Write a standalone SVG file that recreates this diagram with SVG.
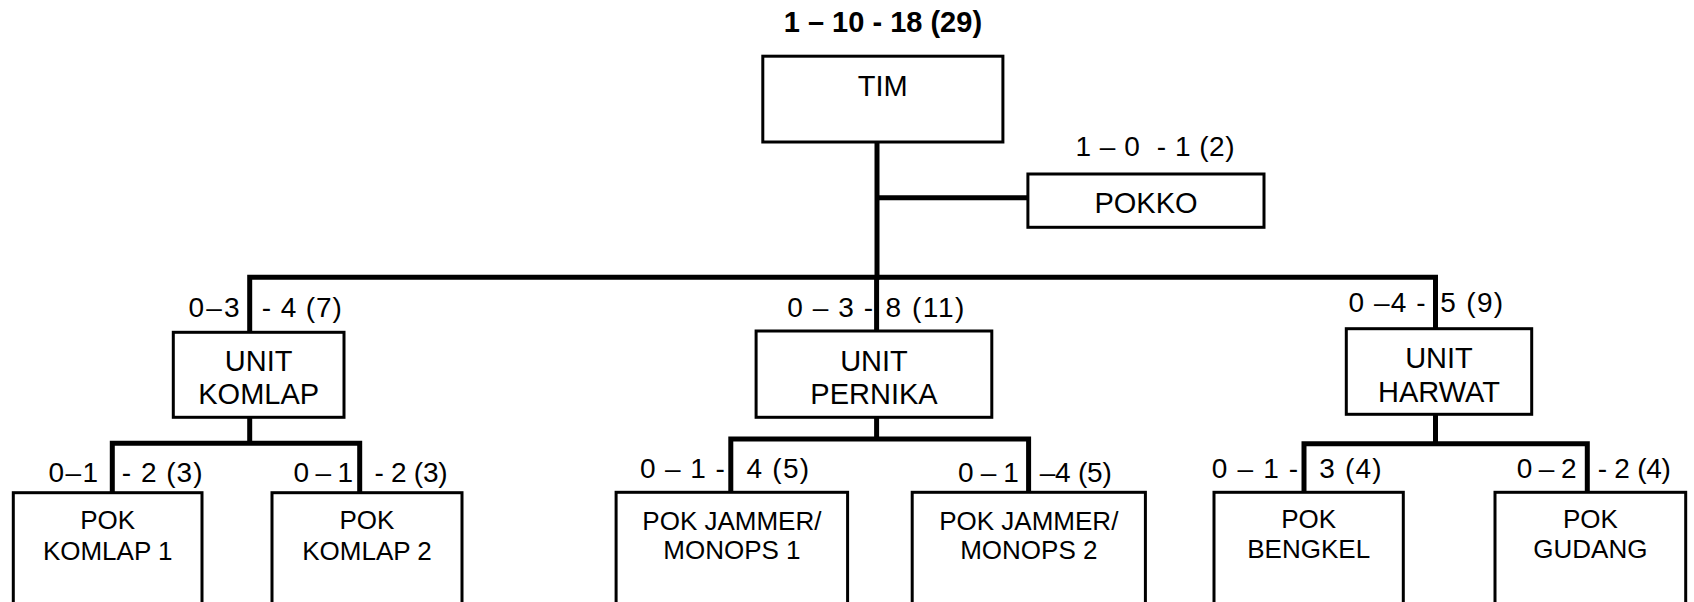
<svg xmlns="http://www.w3.org/2000/svg" width="1694" height="602" viewBox="0 0 1694 602">
<style>
.box{fill:#fff;stroke:#000;stroke-width:3}
.con{fill:none;stroke:#000;stroke-width:5;stroke-linejoin:miter;stroke-linecap:butt}
text{font-family:"Liberation Sans",Arial,sans-serif;fill:#000;white-space:pre}
.t{font-size:29px;text-anchor:middle}
.p{font-size:26px;text-anchor:middle}
.l{font-size:28px}
.title{font-size:29px;font-weight:bold;text-anchor:middle}
</style>
<rect width="1694" height="602" fill="#fff"/>
<g id="connectors">
<path class="con" d="M877,142 V279.8"/>
<path class="con" d="M877,197.7 H1028"/>
<path class="con" d="M249.7,333 V277.3 H1435.5 V330"/>
<path class="con" d="M876.6,277 V331"/>
<path class="con" d="M249.7,417 V443.3"/>
<path class="con" d="M112.3,493 V443.3 H359.7 V493"/>
<path class="con" d="M876.6,417 V439"/>
<path class="con" d="M730.8,493 V439 H1028.6 V493"/>
<path class="con" d="M1435.5,414 V443.7"/>
<path class="con" d="M1304,493 V443.7 H1587.3 V493"/>
</g>
<text class="title" x="882.9" y="32.3">1 – 10 - 18 (29)</text>
<g id="tim">
<rect class="box" x="762.8" y="56.2" width="240.1" height="85.8"/>
<text class="t" x="882.8" y="96">TIM</text>
</g>
<g id="pokko">
<rect class="box" x="1027.9" y="174" width="236.1" height="53.3"/>
<text class="t" x="1146" y="213.3">POKKO</text>
<text class="l" x="1075.5" y="156" textLength="159" lengthAdjust="spacing">1 – 0  - 1 (2)</text>
</g>
<g id="unit-komlap">
<rect class="box" x="173.3" y="332.3" width="170.7" height="85"/>
<text class="t" x="258.7" y="371">UNIT</text>
<text class="t" x="258.7" y="404.3">KOMLAP</text>
<text class="l" x="188.5" y="317.3" textLength="51" lengthAdjust="spacing">0–3</text>
<text class="l" x="261.8" y="317.3" textLength="80" lengthAdjust="spacing">- 4 (7)</text>
</g>
<g id="unit-pernika">
<rect class="box" x="756.1" y="331" width="235.7" height="86.3"/>
<text class="t" x="874" y="371">UNIT</text>
<text class="t" x="874" y="404">PERNIKA</text>
<text class="l" x="787.2" y="317.3" textLength="86" lengthAdjust="spacing">0 – 3 -</text>
<text class="l" x="885.4" y="317.3" textLength="79" lengthAdjust="spacing">8 (11)</text>
</g>
<g id="unit-harwat">
<rect class="box" x="1346.3" y="328.7" width="185.4" height="85.6"/>
<text class="t" x="1439" y="368.3">UNIT</text>
<text class="t" x="1439" y="401.7">HARWAT</text>
<text class="l" x="1348.5" y="312.3" textLength="77" lengthAdjust="spacing">0 –4 -</text>
<text class="l" x="1440.2" y="312.3" textLength="63" lengthAdjust="spacing">5 (9)</text>
</g>
<g id="pok-komlap-1">
<rect class="box" x="13.3" y="492.7" width="188.7" height="130"/>
<text class="p" x="107.7" y="529.3">POK</text>
<text class="p" x="107.7" y="559.5">KOMLAP 1</text>
<text class="l" x="48.5" y="481.7" textLength="49.7" lengthAdjust="spacing">0–1</text>
<text class="l" x="121.8" y="481.7" textLength="80.7" lengthAdjust="spacing">- 2 (3)</text>
</g>
<g id="pok-komlap-2">
<rect class="box" x="272" y="492.7" width="190" height="130"/>
<text class="p" x="367" y="529.3">POK</text>
<text class="p" x="367" y="559.5">KOMLAP 2</text>
<text class="l" x="293.5" y="481.7" textLength="59.7" lengthAdjust="spacing">0 – 1</text>
<text class="l" x="374.5" y="481.7" textLength="73" lengthAdjust="spacing">- 2 (3)</text>
</g>
<g id="pok-jammer-1">
<rect class="box" x="616.1" y="492.3" width="231.5" height="130"/>
<text class="p" x="731.9" y="530">POK JAMMER/</text>
<text class="p" x="731.9" y="559">MONOPS 1</text>
<text class="l" x="639.9" y="478.3" textLength="85" lengthAdjust="spacing">0 – 1 -</text>
<text class="l" x="746.5" y="478.3" textLength="62.6" lengthAdjust="spacing">4 (5)</text>
</g>
<g id="pok-jammer-2">
<rect class="box" x="912.2" y="492.3" width="233.2" height="130"/>
<text class="p" x="1028.8" y="530">POK JAMMER/</text>
<text class="p" x="1028.8" y="559">MONOPS 2</text>
<text class="l" x="958" y="481.7" textLength="60.9" lengthAdjust="spacing">0 – 1</text>
<text class="l" x="1039.7" y="481.7" textLength="72.1" lengthAdjust="spacing">–4 (5)</text>
</g>
<g id="pok-bengkel">
<rect class="box" x="1214" y="492.3" width="189.3" height="130"/>
<text class="p" x="1308.7" y="528.3">POK</text>
<text class="p" x="1308.7" y="558.3">BENGKEL</text>
<text class="l" x="1211.8" y="478.3" textLength="86.4" lengthAdjust="spacing">0 – 1 -</text>
<text class="l" x="1319.2" y="478.3" textLength="62.3" lengthAdjust="spacing">3 (4)</text>
</g>
<g id="pok-gudang">
<rect class="box" x="1495" y="492.3" width="190.7" height="130"/>
<text class="p" x="1590.4" y="528.3">POK</text>
<text class="p" x="1590.4" y="558.3">GUDANG</text>
<text class="l" x="1516.8" y="478.3" textLength="59.7" lengthAdjust="spacing">0 – 2</text>
<text class="l" x="1597.8" y="478.3" textLength="73" lengthAdjust="spacing">- 2 (4)</text>
</g>
</svg>
